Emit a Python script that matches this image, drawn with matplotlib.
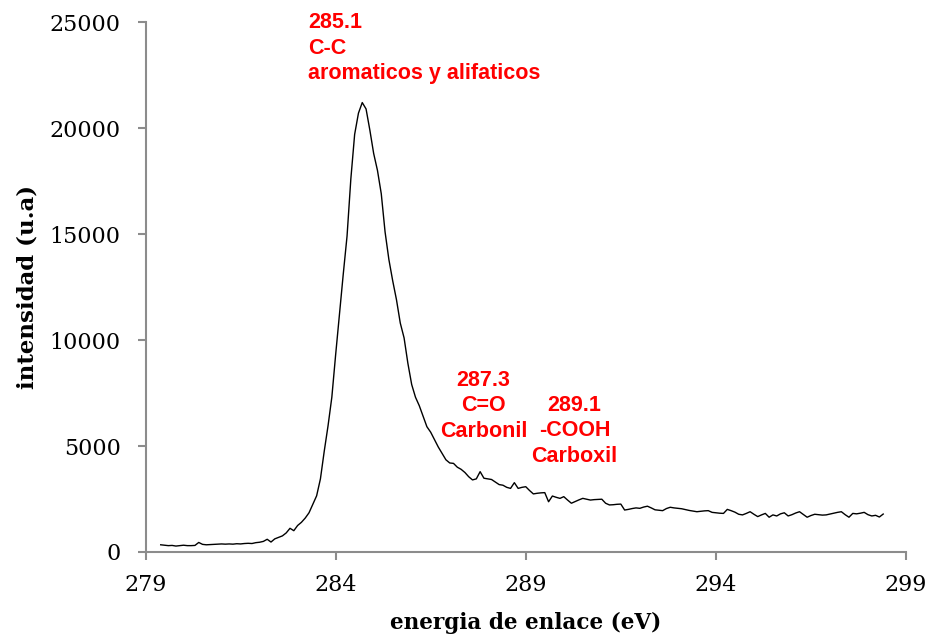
import numpy as np
import matplotlib
matplotlib.use("Agg")
import matplotlib.pyplot as plt

# binding energy grid start/step (eV) and intensity values (u.a)
e_start = 279.4
e_step = 0.1
intensity = [
    340, 320, 300, 310, 280, 300, 320, 300, 300, 310,      # 279.4 - 280.3
    450, 360, 340, 350, 360, 370, 380, 370, 380, 370,      # 280.4 - 281.3
    390, 380, 400, 410, 400, 440, 460, 500, 600, 470,      # 281.4 - 282.3
    620, 690, 760, 900, 1118, 1005, 1250, 1400, 1600, 1850,  # 282.4 - 283.3
    2250, 2650, 3450, 4750, 5950, 7300, 9300, 11200, 13100, 14900,  # 283.4 - 284.3
    17600, 19700, 20700, 21200, 20900, 19900, 18800, 18000, 16900, 15100,  # 284.4 - 285.3
    13800, 12800, 11900, 10800, 10100, 8900, 7900, 7300, 6900, 6400,  # 285.4 - 286.3
    5910, 5650, 5300, 4950, 4650, 4350, 4200, 4180, 4000, 3900,  # 286.4 - 287.3
    3750, 3550, 3400, 3450, 3790, 3480, 3450, 3420, 3300, 3180,  # 287.4 - 288.3
    3150, 3050, 3000, 3270, 3000, 3050, 3080, 2900, 2740, 2770,  # 288.4 - 289.3
    2790, 2800, 2370, 2640, 2580, 2530, 2610, 2450, 2300, 2380,  # 289.4 - 290.3
    2460, 2530, 2490, 2450, 2470, 2480, 2490, 2300, 2220, 2230,  # 290.4 - 291.3
    2250, 2260, 1980, 2010, 2050, 2080, 2060, 2120, 2160, 2080,  # 291.4 - 292.3
    1990, 1970, 1950, 2050, 2110, 2080, 2060, 2040, 2000, 1960,  # 292.4 - 293.3
    1930, 1900, 1920, 1940, 1950, 1870, 1850, 1830, 1820, 2010,  # 293.4 - 294.3
    1950, 1880, 1780, 1750, 1820, 1900, 1780, 1670, 1750, 1820,  # 294.4 - 295.3
    1640, 1750, 1700, 1800, 1850, 1700, 1760, 1840, 1900, 1770,  # 295.4 - 296.3
    1640, 1720, 1780, 1760, 1740, 1750, 1790, 1830, 1870, 1900,  # 296.4 - 297.3
    1760, 1640, 1820, 1800, 1830, 1870, 1760, 1700, 1730, 1650,  # 297.4 - 298.3
    1790,                                                  # 298.4
]
energy = np.round(e_start + e_step * np.arange(len(intensity)), 2)

x_ticks = [279, 284, 289, 294, 299]
y_ticks = [0, 5000, 10000, 15000, 20000, 25000]

labels = [
    ("285.1\nC-C\naromaticos y alifaticos", 283.28, 23770, "left"),
    ("287.3\nC=O\nCarbonil", 287.89, 6887, "center"),
    ("289.1\n-COOH\nCarboxil", 290.28, 5708, "center"),
]

fig = plt.figure(figsize=(9.28, 6.38), dpi=100)
ax = fig.add_axes([0.1568, 0.1348, 0.9763 - 0.1568, 0.9655 - 0.1348])

ax.plot(energy, intensity, color="black", lw=1.0)

ax.set_xlim(279, 299)
ax.set_ylim(0, 25000)
ax.set_xticks(x_ticks)
ax.set_yticks(y_ticks)

grey = "#8c8c8c"
for s in ["top", "right"]:
    ax.spines[s].set_visible(False)
for s in ["left", "bottom"]:
    ax.spines[s].set_color(grey)
    ax.spines[s].set_linewidth(1.5)
ax.tick_params(axis="both", direction="out", length=6, width=1.5, color=grey,
               labelsize=16, labelcolor="black")
for lab in ax.get_xticklabels() + ax.get_yticklabels():
    lab.set_family("DejaVu Serif")
ax.tick_params(axis="x", pad=10)
ax.tick_params(axis="y", pad=12)

ax.set_xlabel("energia de enlace (eV)", family="DejaVu Serif", fontweight="bold",
              fontsize=15.5, labelpad=11)
ax.set_ylabel("intensidad (u.a)", family="DejaVu Serif", fontweight="bold",
              fontsize=16.5, labelpad=8)

for txt, x, y, ha in labels:
    ax.text(x, y, txt, color="#ff0000", fontweight="bold", fontsize=15.5,
            family="Liberation Sans", ha=ha, va="center", multialignment=ha,
            linespacing=1.3, clip_on=False)

fig.savefig("out.png", dpi=100)
